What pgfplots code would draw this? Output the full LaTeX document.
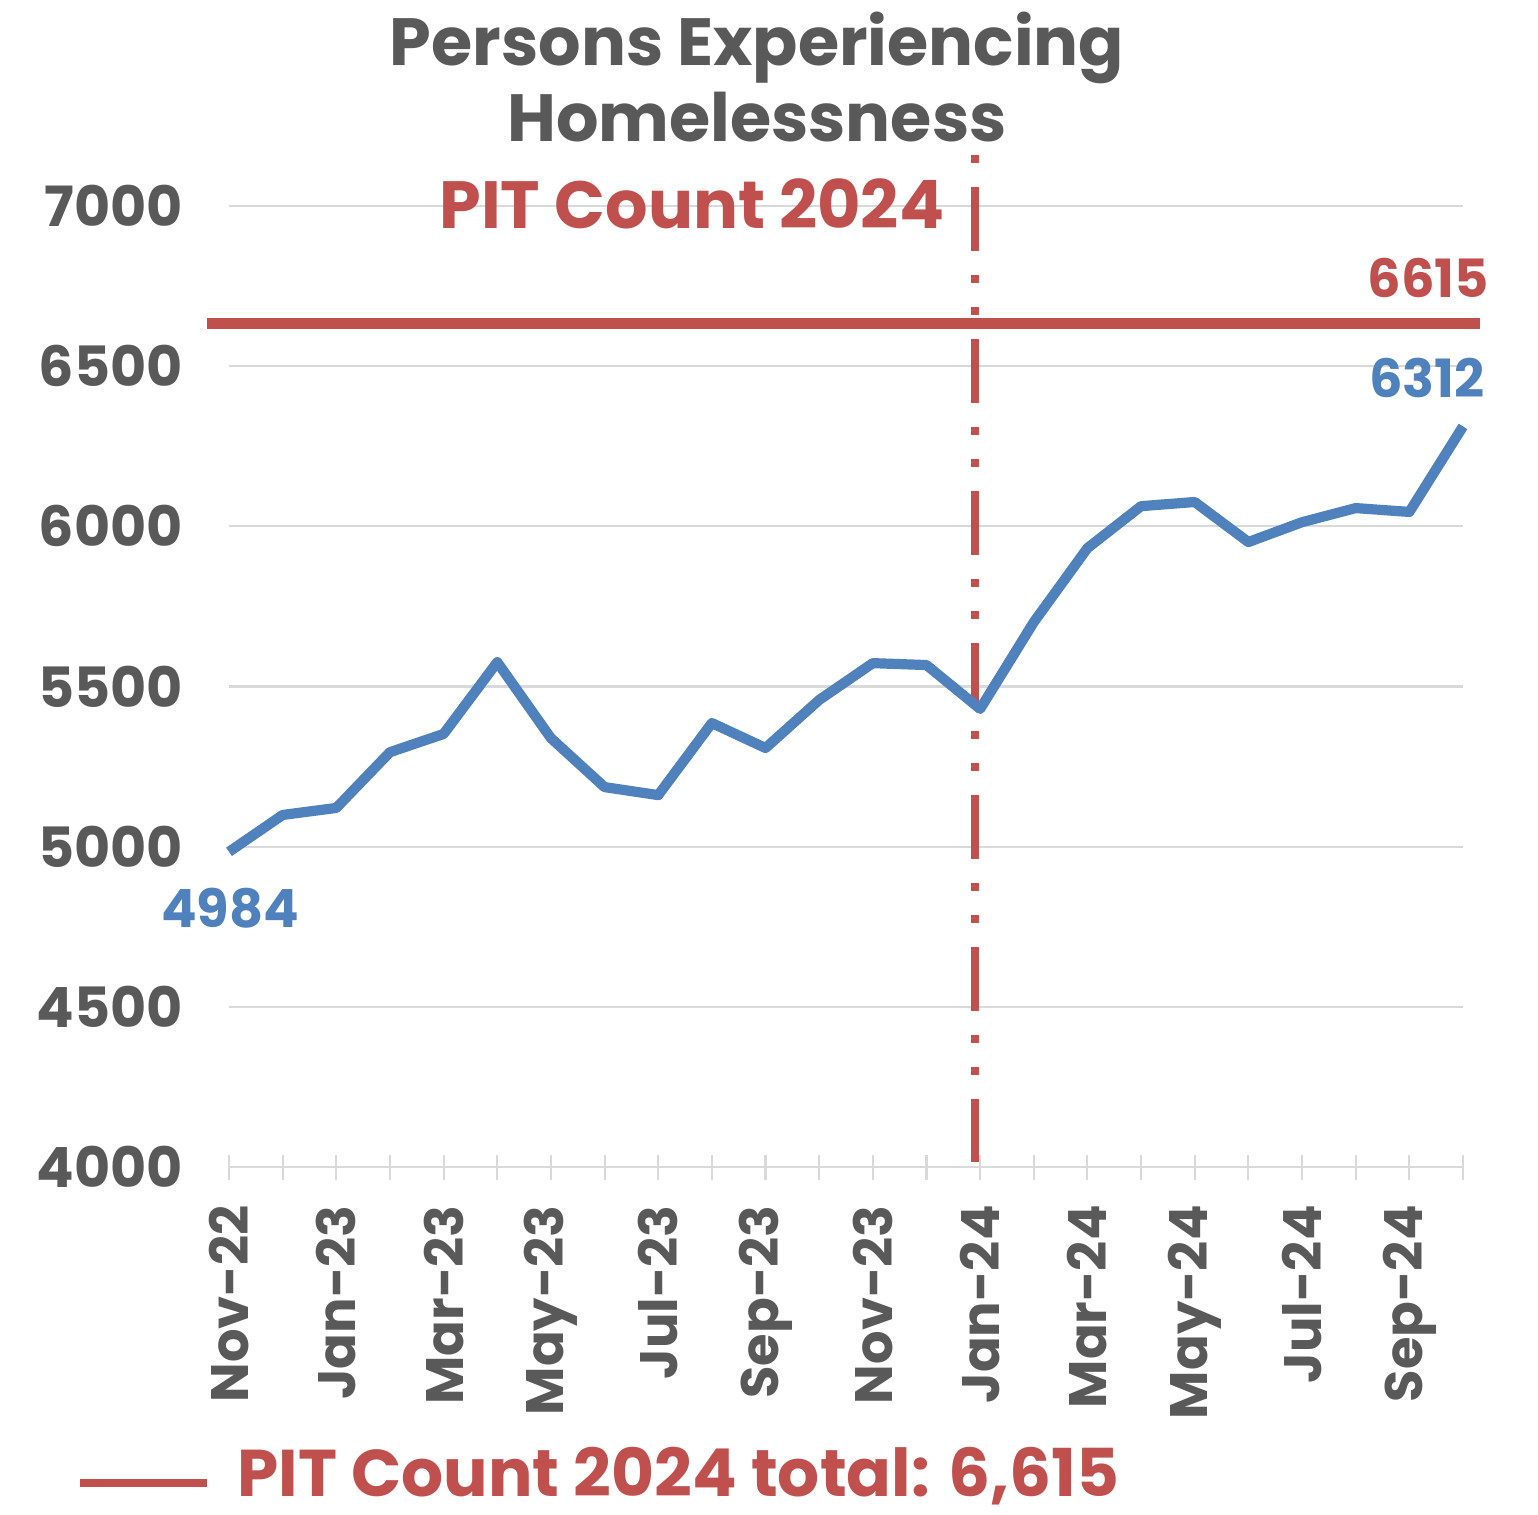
\documentclass[border=0pt]{standalone}
\usepackage{fontspec}
\setmainfont{Poppins}
\usepackage{pgfplots}
\pgfplotsset{compat=1.18}
\definecolor{txtgray}{HTML}{595959}
\definecolor{pitred}{HTML}{C0504D}
\definecolor{lineblue}{HTML}{4F81BD}
\definecolor{gridgray}{HTML}{D9D9D9}

\begin{document}
\begin{tikzpicture}
\path[use as bounding box] (-2.29cm,-3.47cm) rectangle (13.09cm,11.67cm);
\begin{axis}[
    scale only axis,
    width=12.34cm,
    height=9.61cm,
    xmin=0, xmax=23,
    ymin=4000, ymax=7000,
    clip=false,
    axis lines*=left,
    y axis line style={draw=none},
    x axis line style={draw=gridgray, line width=0.6pt},
    xtick={0,...,23},
    xticklabels={Nov-22,,Jan-23,,Mar-23,,May-23,,Jul-23,,Sep-23,,Nov-23,,Jan-24,,Mar-24,,May-24,,Jul-24,,Sep-24,},
    ytick={4000,4500,...,7000},
    tick align=center,
    major tick length=0.25cm,
    x tick style={draw=gridgray, line width=0.6pt},
    y tick style={draw=none},
    ymajorgrids,
    grid style={draw=gridgray, line width=0.6pt},
    tick label style={font=\fontsize{15}{18}\selectfont\bfseries, text=txtgray, inner sep=0pt},
    y tick label style={font=\fontsize{15.8}{18}\selectfont\bfseries},
    x tick label style={rotate=90, anchor=east},
    xticklabel shift=0.25cm,
    yticklabel shift=0.33cm,
    /pgf/number format/assume math mode=true,
    /pgf/number format/1000 sep={},
]
% PIT count 2024 reference line
\addplot[pitred, line width=3pt] coordinates {(-0.41,6633) (23.32,6633)};
% January 2024 marker
\addplot[pitred, line width=2.2pt,
    dash pattern=on 0.08cm off 0.24cm on 0.64cm off 0.24cm on 0.08cm off 0.24cm]
    coordinates {(13.9,7160) (13.9,4015)};
% monthly persons experiencing homelessness
\addplot[lineblue, line width=2.9pt, line join=round] coordinates {
    (0,4984) (1,5099) (2,5121) (3,5295) (4,5352) (5,5576)
    (6,5339) (7,5186) (8,5161) (9,5386) (10,5308) (11,5458)
    (12,5573) (13,5567) (14,5430) (15,5701) (16,5932) (17,6063)
    (18,6076) (19,5951) (20,6013) (21,6057) (22,6045) (23,6312)
};
\node[anchor=base, text=pitred, font=\fontsize{15}{18}\selectfont\bfseries] at (axis cs:22.35,6713) {6615};
\node[anchor=base, text=lineblue, font=\fontsize{15}{18}\selectfont\bfseries] at (axis cs:22.33,6401) {6312};
\node[anchor=base, text=lineblue, font=\fontsize{15}{18}\selectfont\bfseries] at (axis cs:0.02,4749) {4984};
\end{axis}
% title
\node[anchor=base, text=txtgray, font=\fontsize{19}{22}\selectfont\bfseries] at (5.28,11.02) {Persons Experiencing};
\node[anchor=base, text=txtgray, font=\fontsize{19}{22}\selectfont\bfseries] at (5.28,10.26) {Homelessness};
\node[anchor=base east, text=pitred, font=\fontsize{19}{22}\selectfont\bfseries, inner sep=0pt] at (7.16,9.39) {PIT Count 2024};
% legend
\draw[pitred, line width=2.3pt] (-1.49,-3.16) -- (-0.22,-3.16);
\node[anchor=base west, text=pitred, font=\fontsize{18.8}{22}\selectfont\bfseries, inner sep=0pt] at (0.08,-3.29) {PIT Count 2024 total: 6,615};
\end{tikzpicture}
\end{document}
